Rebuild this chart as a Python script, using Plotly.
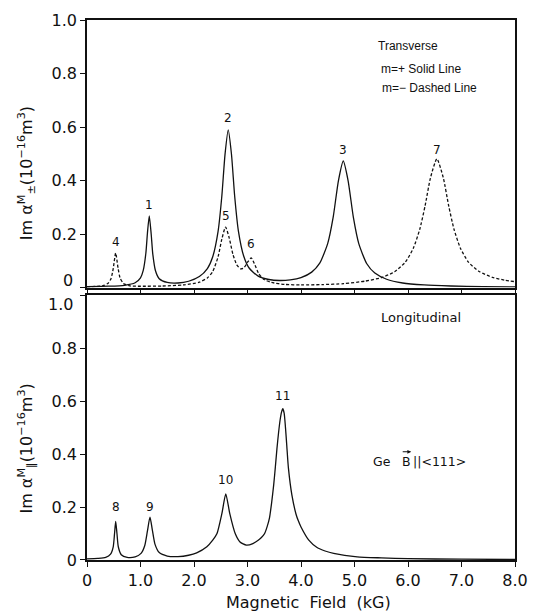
import plotly.graph_objects as go

# Transverse, m = + (solid line): magnetic field (kG) vs Im alpha
field_plus = [0.0, 0.4, 0.7, 0.9, 1.0, 1.05, 1.10, 1.13, 1.164, 1.20, 1.23, 1.28, 1.35,
              1.5, 1.7, 1.9, 2.1, 2.25, 2.35, 2.45, 2.52, 2.58, 2.64, 2.70, 2.76, 2.83,
              2.93, 3.03, 3.2, 3.4, 3.6, 3.8, 4.0, 4.2, 4.35, 4.5, 4.6, 4.7, 4.79, 4.88,
              4.98, 5.08, 5.23, 5.38, 5.6, 5.9, 6.3, 6.8, 7.4, 8.0]
im_plus = [0.003, 0.005, 0.0085, 0.018, 0.0365, 0.063, 0.128, 0.204, 0.268, 0.199, 0.125,
           0.063, 0.033, 0.019, 0.017, 0.0235, 0.041, 0.071, 0.115, 0.210, 0.341, 0.498,
           0.589, 0.499, 0.342, 0.211, 0.117, 0.073, 0.0425, 0.030, 0.0264, 0.0287, 0.037,
           0.0576, 0.091, 0.165, 0.261, 0.400, 0.473, 0.400, 0.261, 0.164, 0.089, 0.054,
           0.031, 0.017, 0.0097, 0.0057, 0.0034, 0.0023]

# Transverse, m = - (dashed line)
field_minus = [0.0, 0.3, 0.4, 0.45, 0.49, 0.536, 0.58, 0.62, 0.68, 0.8, 1.0, 1.4, 1.8, 2.1,
               2.25, 2.35, 2.45, 2.52, 2.59, 2.66, 2.73, 2.8, 2.87, 2.93, 3.0, 3.07, 3.14,
               3.21, 3.3, 3.45, 3.7, 4.0, 4.4, 4.8, 5.2, 5.5, 5.75, 5.95, 6.1, 6.22, 6.32,
               6.42, 6.54, 6.66, 6.76, 6.86, 6.98, 7.13, 7.33, 7.58, 7.8, 8.0]
im_minus = [0.003, 0.007, 0.017, 0.034, 0.0705, 0.129, 0.073, 0.035, 0.0155, 0.0063, 0.0048,
            0.0057, 0.0096, 0.020, 0.036, 0.060, 0.115, 0.181, 0.226, 0.184, 0.122, 0.085,
            0.070, 0.073, 0.094, 0.111, 0.084, 0.052, 0.031, 0.019, 0.0116, 0.0098, 0.011,
            0.0146, 0.024, 0.037, 0.059, 0.095, 0.147, 0.218, 0.306, 0.410, 0.481, 0.410,
            0.306, 0.218, 0.147, 0.095, 0.060, 0.038, 0.028, 0.022]

# Longitudinal
field_par = [0.0, 0.2, 0.35, 0.44, 0.49, 0.515, 0.536, 0.56, 0.585, 0.64, 0.75, 0.9, 1.01,
             1.08, 1.13, 1.177, 1.22, 1.27, 1.35, 1.5, 1.7, 1.9, 2.05, 2.24, 2.35, 2.43,
             2.52, 2.594, 2.67, 2.77, 2.86, 2.98, 3.1, 3.2, 3.26, 3.32, 3.37, 3.41, 3.45,
             3.49, 3.52, 3.55, 3.58, 3.61, 3.635, 3.66, 3.685, 3.71, 3.735, 3.765, 3.83,
             3.906, 3.95, 4.0, 4.15, 4.3, 4.45, 4.61, 5.05, 5.5, 6.0, 7.0, 8.0]
im_par = [0.004, 0.006, 0.01, 0.022, 0.05, 0.1, 0.146, 0.1, 0.05, 0.02, 0.01, 0.012, 0.025,
          0.055, 0.11, 0.162, 0.115, 0.06, 0.028, 0.015, 0.013, 0.018, 0.027, 0.05, 0.075,
          0.10, 0.174, 0.25, 0.174, 0.10, 0.068, 0.056, 0.062, 0.075, 0.085, 0.10, 0.128,
          0.158, 0.215, 0.285, 0.35, 0.42, 0.48, 0.53, 0.558, 0.572, 0.555, 0.50, 0.43,
          0.347, 0.245, 0.174, 0.148, 0.125, 0.074, 0.047, 0.034, 0.025, 0.012, 0.008,
          0.005, 0.003, 0.002]

# Resonance numbering and the field at which each resonance peaks
labels_top = ["4", "1", "2", "5", "6", "3", "7"]
peaks_top = [0.536, 1.164, 2.64, 2.59, 3.07, 4.79, 6.54]
series_top = ["minus", "plus", "plus", "minus", "minus", "plus", "minus"]
labels_bot = ["8", "9", "10", "11"]
peaks_bot = [0.536, 1.177, 2.594, 3.66]

x_ticks = [0, 1, 2, 3, 4, 5, 6, 7, 8]
x_ticktext = ["0", "1.0", "2.0", "3.0", "4.0", "5.0", "6.0", "7.0", "8.0"]
y_ticks = [0, 0.2, 0.4, 0.6, 0.8, 1.0]
y_ticktext = ["0", "0.2", "0.4", "0.6", "0.8", "1.0"]

INK = "#111111"
FONT = "DejaVu Sans"
curve = dict(color=INK, width=1.3, shape="spline", smoothing=0.6)

fig = go.Figure()
fig.add_trace(go.Scatter(x=field_plus, y=im_plus, mode="lines", line=curve,
                         xaxis="x", yaxis="y", name="m=+"))
fig.add_trace(go.Scatter(x=field_minus, y=im_minus, mode="lines",
                         line=dict(curve, dash="3px,2px"),
                         xaxis="x", yaxis="y", name="m=-"))
fig.add_trace(go.Scatter(x=field_par, y=im_par, mode="lines", line=curve,
                         xaxis="x2", yaxis="y2", name="longitudinal"))


def value_at(xs, ys, x0):
    i = min(range(len(xs)), key=lambda k: abs(xs[k] - x0))
    return ys[i]


def px_x(px):
    """Horizontal pixel position -> paper fraction of the plotting area."""
    return (px - 87) / 433


def px_y(px):
    """Vertical pixel position -> paper fraction of the plotting area."""
    return (560 - px) / 549


def note(text, x, y, font, xanchor="center"):
    fig.add_annotation(x=px_x(x), y=px_y(y), xref="paper", yref="paper", text=text,
                       showarrow=False, xanchor=xanchor, yanchor="middle", font=font)


label_font = dict(family=FONT, size=12, color=INK)
top_shift = [11, 11, 12, 11, 14, 11, 9]
for text, xp, s, dy in zip(labels_top, peaks_top, series_top, top_shift):
    xs, ys = (field_plus, im_plus) if s == "plus" else (field_minus, im_minus)
    fig.add_annotation(x=xp, y=value_at(xs, ys, xp), xref="x", yref="y", text=text,
                       showarrow=False, yshift=dy, xanchor="center", yanchor="middle",
                       font=label_font)
bot_shift = [14, 10, 14, 13]
for text, xp, dy in zip(labels_bot, peaks_bot, bot_shift):
    fig.add_annotation(x=xp, y=value_at(field_par, im_par, xp), xref="x2", yref="y2",
                       text=text, showarrow=False, yshift=dy, xanchor="center",
                       yanchor="middle", font=label_font)

# Panel notes
note_font = dict(family="Liberation Sans", size=12, color=INK)
note("Transverse", 412, 37.5, note_font)
note("m=+ Solid Line", 382, 61, note_font, xanchor="left")
note("m=− Dashed Line", 383, 80, note_font, xanchor="left")
note("Longitudinal", 425, 313.5, dict(family=FONT, size=13, color=INK))

# "Ge  B || <111>" with a vector arrow over the B
ge_font = dict(family=FONT, size=12.5, color=INK)
note("Ge", 385, 460, ge_font)
note("B", 410, 460, ge_font)
note("||<111>", 415, 460, ge_font, xanchor="left")
fig.add_annotation(x=px_x(415), y=px_y(450), xref="paper", yref="paper", text="",
                   showarrow=True, ax=-10, ay=0, arrowhead=2, arrowsize=0.7,
                   arrowwidth=1.1, arrowcolor=INK)

# Axis titles
title_font = dict(family=FONT, size=16, color=INK)
for text, yc in [("Im α<sup>M</sup><sub>±</sub>(10<sup>−16</sup>m<sup>3</sup>)", 167),
                 ("Im α<sup>M</sup><sub>∥</sub>(10<sup>−16</sup>m<sup>3</sup>)", 447)]:
    fig.add_annotation(x=px_x(26), y=px_y(yc), xref="paper", yref="paper", text=text,
                       textangle=-90, showarrow=False, xanchor="center",
                       yanchor="middle", font=title_font)
note("Magnetic  Field  (kG)", 311, 603, title_font)

# The two labels where the panels meet are nudged apart, clear of each other
tick_font = dict(family=FONT, size=16, color=INK)
note(y_ticktext[0], 75, 276, tick_font, xanchor="right")
note(y_ticktext[-1], 75, 300, tick_font, xanchor="right")

frame = dict(showline=True, mirror=True, linecolor=INK, linewidth=1.5,
             showgrid=False, zeroline=False, ticks="outside", ticklen=5,
             tickwidth=1.2, tickcolor=INK, tickfont=tick_font)

fig.update_layout(
    width=539, height=616,
    margin=dict(l=87, r=19, t=11, b=56),
    paper_bgcolor="white", plot_bgcolor="white",
    showlegend=False,
    xaxis=dict(frame, domain=[0, 1], range=[0, 8], anchor="y",
               tickvals=x_ticks, showticklabels=False),
    yaxis=dict(frame, domain=[px_y(283), 1], range=[0, 1], anchor="x",
               tickvals=y_ticks, ticktext=[""] + y_ticktext[1:]),
    xaxis2=dict(frame, domain=[0, 1], range=[0, 8], anchor="y2",
                tickvals=x_ticks, ticktext=x_ticktext),
    yaxis2=dict(frame, domain=[0, px_y(291)], range=[0, 1], anchor="x2",
                tickvals=y_ticks, ticktext=y_ticktext[:-1] + [""]),
)

fig.write_html("out.html")
